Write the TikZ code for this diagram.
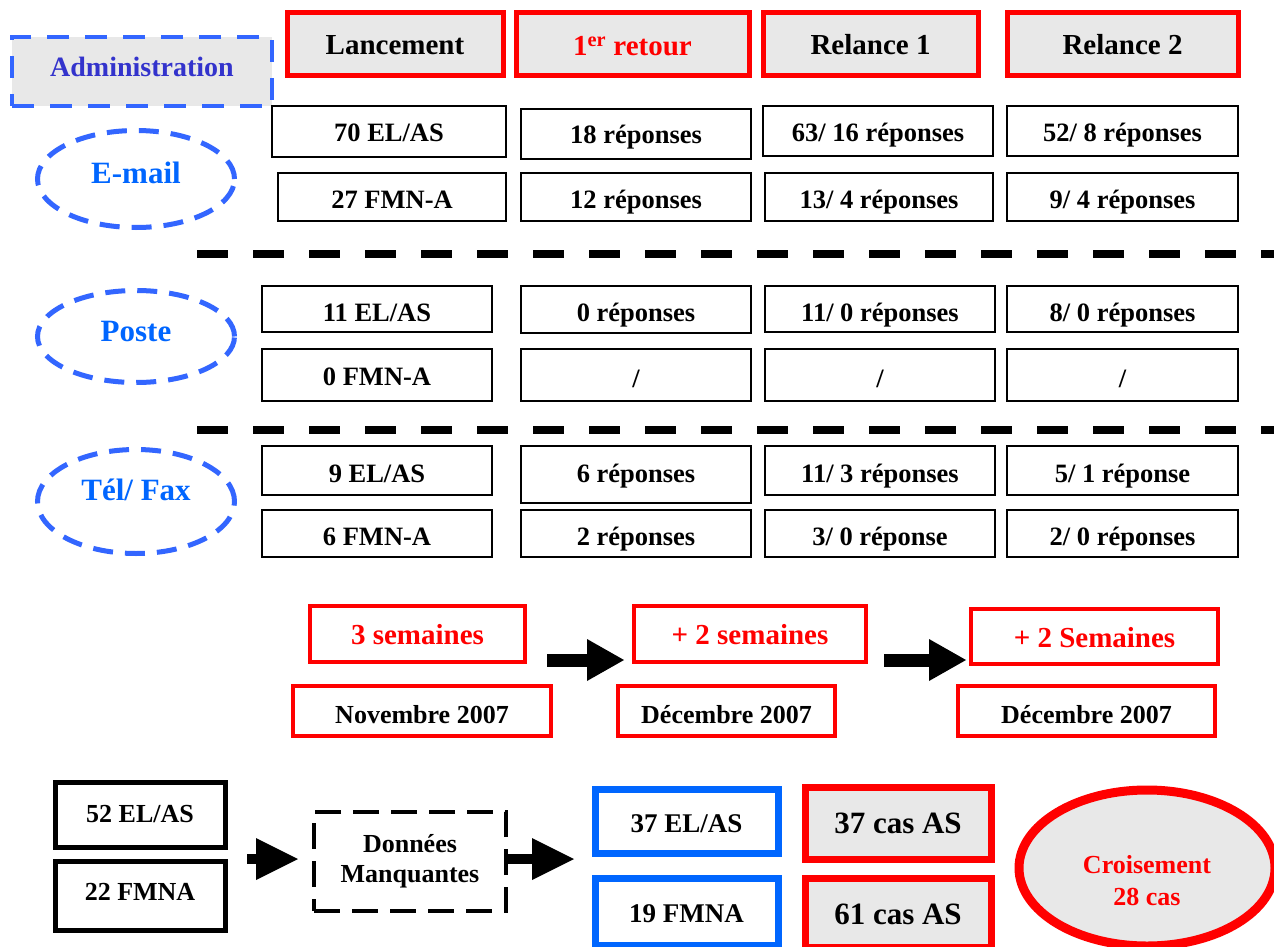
\documentclass[tikz,border=0pt]{standalone}
\usepackage{fontspec}
\setmainfont{Liberation Serif}
\usetikzlibrary{shapes.geometric,arrows.meta}

\definecolor{mainred}{HTML}{FF0000}
\definecolor{cellgrey}{HTML}{E8E8E8}
\definecolor{dashblue}{HTML}{3366FF}
\definecolor{labelblue}{HTML}{0066FF}
\definecolor{admblue}{HTML}{3333CC}
\definecolor{boxblue}{HTML}{0066FF}

\tikzset{
  boxbase/.style={inner xsep=0pt, inner ysep=0pt, anchor=center},
  header/.style={boxbase, draw=mainred, line width=5pt, fill=cellgrey,
    font=\fontsize{29}{34}\selectfont\bfseries},
  admin/.style={boxbase, draw=dashblue, line width=4.5pt, fill=cellgrey,
    dash pattern=on 22pt off 16pt, text=admblue,
    font=\fontsize{28}{33}\selectfont\bfseries},
  cell/.style={boxbase, draw=black, line width=2.5pt, fill=white,
    font=\fontsize{26.5}{32}\selectfont\bfseries},
  period/.style={boxbase, draw=mainred, line width=3.5pt, fill=white,
    text=mainred, font=\fontsize{29}{34}\selectfont\bfseries},
  month/.style={boxbase, draw=mainred, line width=3.5pt, fill=white,
    font=\fontsize{26}{31}\selectfont\bfseries},
  total/.style={boxbase, draw=black, line width=5pt, fill=white,
    font=\fontsize{26}{31}\selectfont\bfseries},
  kept/.style={boxbase, draw=boxblue, line width=7pt, fill=white,
    font=\fontsize{27}{32}\selectfont\bfseries},
  cases/.style={boxbase, draw=mainred, line width=7pt, fill=cellgrey,
    font=\fontsize{31}{36}\selectfont\bfseries},
  missing/.style={boxbase, draw=black, line width=4.5pt, fill=white,
    dash pattern=on 26pt off 12pt, align=center,
    font=\fontsize{26}{30}\selectfont\bfseries},
  channel/.style={ellipse, draw=dashblue, line width=5pt,
    dash pattern=on 20pt off 12pt, text=labelblue, inner sep=0pt,
    font=\fontsize{31}{36}\selectfont\bfseries},
  crossing/.style={ellipse, draw=mainred, line width=9pt, fill=cellgrey,
    text=mainred, inner sep=0pt, align=center,
    font=\fontsize{26}{32}\selectfont\bfseries},
  separator/.style={line width=8pt, dash pattern=on 31pt off 25pt},
  blockarrow/.style={line width=13pt,
    -{Triangle[length=37pt,width=42pt,line width=0pt]}},
  smallarrow/.style={line width=10pt,
    -{Triangle[length=42pt,width=42pt,line width=0pt]}},
}

% box from its corners (x1,y1)-(x2,y2), baseline of the (last) text line at #7
\newcommand\boxnode[8]{%
  \pgfmathsetmacro\bxw{#5-#3}%
  \pgfmathsetmacro\bxh{#7-#4}%
  \pgfmathsetmacro\bxd{#6-#7}%
  \node[#1, minimum width=\bxw pt, text height=\bxh pt, text depth=\bxd pt]
    (#2) at ({(#3+#5)/2},{(#4+#6)/2}) {#8};}

\begin{document}
\begin{tikzpicture}[x=1pt, y=-1pt]
  \fill[white] (0,0) rectangle (1274,947);
  \useasboundingbox (0,0) rectangle (1274,947);

  % column headers
  \boxnode{admin}{adm}{12}{37}{272}{106}{77}{Administration}
  \boxnode{header}{hlan}{287}{13}{503}{76}{55}{Lancement}
  \boxnode{header, text=mainred}{hret}{516}{13}{749}{76}{56}{1\textsuperscript{er} retour}
  \boxnode{header}{hrel1}{763}{13}{978}{76}{55}{Relance 1}
  \boxnode{header}{hrel2}{1007}{13}{1238}{76}{55}{Relance 2}

  % channels
  \node[channel, minimum width=197pt, minimum height=97pt,
        text height=22pt, text depth=14pt] (email) at (136,179) {E-mail};
  \node[channel, minimum width=197pt, minimum height=92pt,
        text height=22pt, text depth=13pt] (poste) at (136,336.5) {Poste};
  \node[channel, minimum width=197pt, minimum height=104pt,
        text height=20pt, text depth=23pt] (telfax) at (136,501.5) {Tél/ Fax};

  % e-mail
  \boxnode{cell}{e11}{272}{106}{506}{157}{142}{70 EL/AS}
  \boxnode{cell}{e12}{521}{109}{751}{159}{143}{18 réponses}
  \boxnode{cell}{e13}{763}{106}{993}{156}{142}{63/ 16 réponses}
  \boxnode{cell}{e14}{1007}{106}{1238}{156}{142}{52/ 8 réponses}
  \boxnode{cell}{e21}{278}{173}{506}{221}{208}{27 FMN-A}
  \boxnode{cell}{e22}{521}{173}{751}{221}{208}{12 réponses}
  \boxnode{cell}{e23}{765}{173}{993}{221}{208}{13/ 4 réponses}
  \boxnode{cell}{e24}{1007}{173}{1238}{221}{208}{9/ 4 réponses}

  \coordinate (sep1a) at (197,254);
  \coordinate (sep1b) at (1280,254);
  \draw[separator] (sep1a) -- (sep1b);

  % poste
  \boxnode{cell}{p11}{262}{286}{492}{332}{321}{11 EL/AS}
  \boxnode{cell}{p12}{521}{286}{751}{333}{321}{0 réponses}
  \boxnode{cell}{p13}{765}{286}{995}{332}{321}{11/ 0 réponses}
  \boxnode{cell}{p14}{1007}{286}{1238}{332}{321}{8/ 0 réponses}
  \boxnode{cell}{p21}{262}{349}{492}{401}{385}{0 FMN-A}
  \boxnode{cell}{p22}{521}{349}{751}{401}{387}{/}
  \boxnode{cell}{p23}{765}{349}{995}{401}{387}{/}
  \boxnode{cell}{p24}{1007}{349}{1238}{401}{387}{/}

  \coordinate (sep2a) at (197,430);
  \coordinate (sep2b) at (1280,430);
  \draw[separator] (sep2a) -- (sep2b);

  % tel / fax
  \boxnode{cell}{t11}{262}{446}{492}{495}{482}{9 EL/AS}
  \boxnode{cell}{t12}{521}{446}{751}{503}{482}{6 réponses}
  \boxnode{cell}{t13}{765}{446}{995}{495}{482}{11/ 3 réponses}
  \boxnode{cell}{t14}{1007}{446}{1238}{495}{482}{5/ 1 réponse}
  \boxnode{cell}{t21}{262}{510}{492}{557}{545}{6 FMN-A}
  \boxnode{cell}{t22}{521}{510}{751}{557}{545}{2 réponses}
  \boxnode{cell}{t23}{765}{510}{995}{557}{545}{3/ 0 réponse}
  \boxnode{cell}{t24}{1007}{510}{1238}{557}{545}{2/ 0 réponses}

  % time line
  \boxnode{period}{w1}{310}{606}{525}{662}{644}{3 semaines}
  \boxnode{period}{w2}{634}{606}{866}{662}{644}{+ 2 semaines}
  \boxnode{period}{w3}{971}{609}{1218}{664}{647}{+ 2 Semaines}
  \boxnode{month}{m1}{293}{686}{551}{736}{723}{Novembre 2007}
  \boxnode{month}{m2}{618}{686}{835}{736}{723}{Décembre 2007}
  \boxnode{month}{m3}{958}{686}{1215}{736}{723}{Décembre 2007}

  \coordinate (a1s) at (547,660);
  \coordinate (a1e) at (624,660);
  \coordinate (a2s) at (884,660);
  \coordinate (a2e) at (966,660);
  \draw[blockarrow] (a1s) -- (a1e);
  \draw[blockarrow] (a2s) -- (a2e);

  % missing data and cases
  \boxnode{total}{b1}{55}{782}{225}{847}{822}{52 EL/AS}
  \boxnode{total}{b2}{55}{861}{225}{930}{900}{22 FMNA}
  \boxnode{missing}{dm}{314}{812}{506}{911}{882}{Données\\Manquantes}
  \boxnode{kept}{g1}{595}{789}{778}{853}{832}{37 EL/AS}
  \boxnode{kept}{g2}{595}{878}{778}{945}{922}{19 FMNA}
  \boxnode{cases}{r1}{805}{787}{991}{859}{833}{37 cas AS}
  \boxnode{cases}{r2}{805}{878}{991}{947}{924}{61 cas AS}

  \node[crossing, minimum width=256pt, minimum height=156pt,
        text height=84pt, text depth=10pt] (cross) at (1147,868)
        {Croisement\\28 cas};

  \coordinate (a3s) at (247,859);
  \coordinate (a3e) at (298,859);
  \coordinate (a4e) at (574,859);
  \draw[smallarrow] (a3s) -- (a3e);
  \draw[smallarrow] (dm.east |- a4e) -- (a4e);
\end{tikzpicture}
\end{document}
